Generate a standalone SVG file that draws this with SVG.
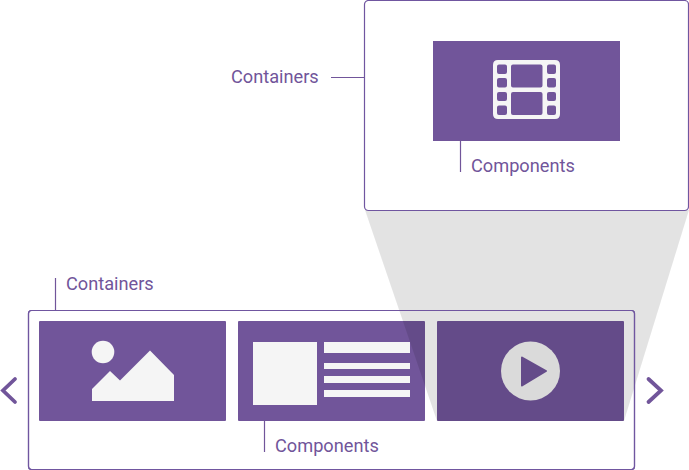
<svg xmlns="http://www.w3.org/2000/svg" width="689" height="470" viewBox="0 0 689 470">
<style>
.frame{fill:#fff;stroke:#7056a0;stroke-width:1.2}
.card{fill:#71559a}
.icon{fill:#f5f5f5}
.lbl{font-family:Roboto,"Liberation Sans",sans-serif;font-size:18.2px;fill:#71559a}
.ln{fill:none;stroke:#71559a;stroke-width:1.2}
.chev{fill:none;stroke:#71559a;stroke-width:3.8;stroke-linecap:round}
</style>
<rect width="689" height="470" fill="#fff"/>
<g id="carousel-container">
<rect class="frame" x="28.500" y="310.500" width="606" height="159" rx="3"/>
<text class="lbl" x="66" y="290">Containers</text>
</g>
<g id="card-image">
<rect class="card" x="39" y="321" width="187" height="100" rx="1"/>
<circle class="icon" cx="103" cy="352" r="11.300"/>
<path class="icon" d="M92 389L110 371L120 380.500L150 350.500L174 375V401H92Z"/>
</g>
<g id="card-text">
<rect class="card" x="238" y="321" width="187" height="100" rx="1"/>
<rect class="icon" x="253" y="342" width="64" height="63"/>
<rect class="icon" x="324" y="342" width="86" height="11"/>
<rect class="icon" x="324" y="363" width="86" height="6"/>
<rect class="icon" x="324" y="376" width="86" height="7"/>
<rect class="icon" x="324" y="390" width="86" height="7"/>
<text class="lbl" x="275" y="452">Components</text>
</g>
<g id="card-video">
<rect class="card" x="437" y="321" width="187" height="100" rx="1"/>
<circle class="icon" cx="530.500" cy="371" r="29.500"/>
<path class="card" stroke="#71559a" stroke-width="2" stroke-linejoin="round" d="M522 357.500L546 371L522 385.500Z"/>
</g>
<polygon id="zoom-projection" points="365,210 689,210 624,421 437,421" fill="#000" fill-opacity=".11"/>
<rect id="carousel-outline" x="28.500" y="310.500" width="606" height="159" rx="3" fill="none" stroke="#7056a0" stroke-width="1.2"/>
<g id="zoom-container">
<rect class="frame" x="364.500" y="0.500" width="324" height="210" rx="4"/>
<text class="lbl" x="231" y="83">Containers</text>
</g>
<g id="zoom-component">
<rect class="card" x="433" y="41" width="187" height="100"/>
<path class="icon" fill-rule="evenodd" d="M498 60H555Q560 60 560 65V114Q560 119 555 119H498Q493 119 493 114V65Q493 60 498 60ZM499 64.500Q497 64.500 497 66.500V72Q497 74 499 74H505Q507 74 507 72V66.500Q507 64.500 505 64.500ZM499 78Q497 78 497 80V85.500Q497 87.500 499 87.500H505Q507 87.500 507 85.500V80Q507 78 505 78ZM499 92Q497 92 497 94V99Q497 101 499 101H505Q507 101 507 99V94Q507 92 505 92ZM499 105.500Q497 105.500 497 107.500V113Q497 115 499 115H505Q507 115 507 113V107.500Q507 105.500 505 105.500ZM549 64.500Q547 64.500 547 66.500V72Q547 74 549 74H554Q556 74 556 72V66.500Q556 64.500 554 64.500ZM549 78Q547 78 547 80V85.500Q547 87.500 549 87.500H554Q556 87.500 556 85.500V80Q556 78 554 78ZM549 92Q547 92 547 94V99Q547 101 549 101H554Q556 101 556 99V94Q556 92 554 92ZM549 105.500Q547 105.500 547 107.500V113Q547 115 549 115H554Q556 115 556 113V107.500Q556 105.500 554 105.500ZM513 64.500Q511 64.500 511 66.500V85.500Q511 87.500 513 87.500H540.500Q542.500 87.500 542.500 85.500V66.500Q542.500 64.500 540.500 64.500ZM513 92Q511 92 511 94V113Q511 115 513 115H540.500Q542.500 115 542.500 113V94Q542.500 92 540.500 92Z"/>
<text class="lbl" x="471" y="172">Components</text>
</g>
<g id="connectors">
<path class="ln" d="M55.500 278V310"/>
<path class="ln" d="M264.500 421V452"/>
<path class="ln" d="M460.500 141V172"/>
<path class="ln" d="M331 77.500H364"/>
</g>
<g id="nav-prev"><path class="chev" d="M15 379L3 390.500L15 402"/></g>
<g id="nav-next"><path class="chev" d="M648.500 379L661 390.500L648.500 402"/></g>
</svg>
